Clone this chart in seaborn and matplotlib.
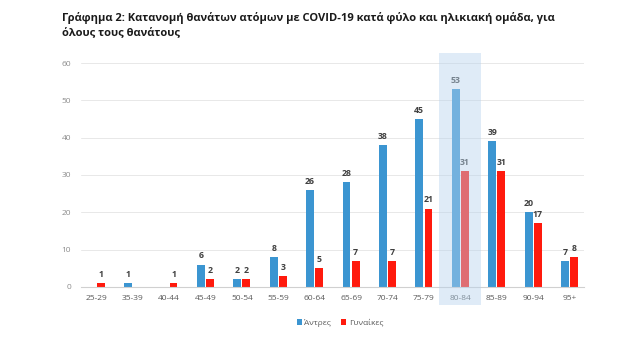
import pandas as pd
import matplotlib.pyplot as plt
import seaborn as sns
from matplotlib.patches import Rectangle

# data
ages = ["25-29", "35-39", "40-44", "45-49", "50-54", "55-59", "60-64",
        "65-69", "70-74", "75-79", "80-84", "85-89", "90-94", "95+"]
men = [0, 1, 0, 6, 2, 8, 26, 28, 38, 45, 53, 39, 20, 7]
women = [1, 0, 1, 2, 2, 3, 5, 7, 7, 21, 31, 31, 17, 8]
series_names = ["Άντρες", "Γυναίκες"]
highlight = "80-84"

df = pd.DataFrame({
    "age": ages * 2,
    "deaths": men + women,
    "sex": [series_names[0]] * len(ages) + [series_names[1]] * len(ages),
})

sns.set_theme(style="white")
plt.rcParams["font.family"] = ["Open Sans", "DejaVu Sans"]

fig = plt.figure(figsize=(6.37, 3.56), dpi=100)
ax = fig.add_axes([0.127, 0.194, 0.79, 0.629])

sns.barplot(data=df, x="age", y="deaths", hue="sex", order=ages,
            palette=["#3B95D1", "#FF1A0D"], width=0.5, gap=0.14,
            saturation=1, linewidth=0, legend=True, ax=ax)

for cont in ax.containers:
    labels = [f"{int(b.get_height())}" if b.get_height() > 0 else "" for b in cont]
    ax.bar_label(cont, labels=labels, padding=3, fontsize=6.3,
                 fontweight="bold", color="#404040")

ax.set_ylim(0, 60)
ax.set_xlim(-0.42, 13.4)
ax.set_yticks(range(0, 61, 10))
ax.yaxis.grid(True, color="#E8E8E8", linewidth=0.7)
ax.set_axisbelow(True)
for s in ["top", "right", "left"]:
    ax.spines[s].set_visible(False)
ax.spines["bottom"].set_color("#D0D0D0")
ax.spines["bottom"].set_linewidth(0.8)
ax.tick_params(axis="y", labelsize=6, labelcolor="#8C8C8C", length=0, pad=7)
ax.tick_params(axis="x", labelsize=6, labelcolor="#595959", length=0, pad=6)
ax.set_xlabel("")
ax.set_ylabel("")

# highlighted age group
hi = ages.index(highlight)
ax.add_patch(Rectangle((hi - 0.58, -4.9), 1.16, 67.6, facecolor="#B8D4EE",
                       alpha=0.45, edgecolor="none", zorder=10, clip_on=False))

leg = ax.legend(loc="center", bbox_to_anchor=(0.534, 0.093),
                bbox_transform=fig.transFigure, ncol=2, frameon=False,
                fontsize=6, handlelength=0.6, handleheight=0.6,
                handletextpad=0.3, columnspacing=1.2)
for t in leg.get_texts():
    t.set_color("#595959")

fig.text(0.097, 0.965, "Γράφημα 2: Κατανομή θανάτων ατόμων με COVID-19 κατά φύλο και ηλικιακή ομάδα, για\nόλους τους θανάτους",
         fontsize=8.0, fontweight="bold", color="#1A1A1A", va="top",
         linespacing=1.35)

fig.savefig("out.png", dpi=100, facecolor="white")
